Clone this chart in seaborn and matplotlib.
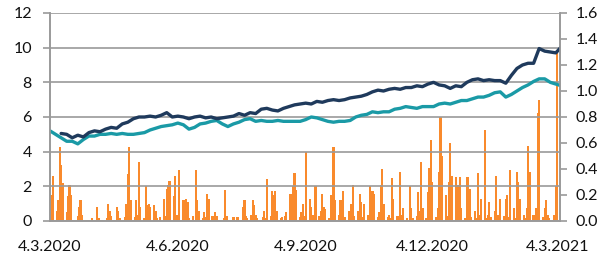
import numpy as np
import pandas as pd
import matplotlib
matplotlib.use("Agg")
import matplotlib.pyplot as plt
import seaborn as sns

# --- data ---
# lines (left axis), one value every 4 days from 4.3.2020
teal_values = [
    5.2, 5.0, 4.8, 4.6, 4.6, 4.45, 4.7, 4.9, 4.9, 5.0,
    5.0, 5.05, 5.0, 5.05, 5.0, 5.0, 5.05, 5.1, 5.25, 5.35,
    5.45, 5.5, 5.55, 5.65, 5.55, 5.3, 5.4, 5.6, 5.65, 5.75,
    5.8, 5.6, 5.45, 5.6, 5.7, 5.85, 5.9, 5.75, 5.8, 5.75,
    5.75, 5.8, 5.75, 5.75, 5.75, 5.75, 5.85, 6.0, 5.95, 5.85,
    5.75, 5.7, 5.75, 5.75, 5.8, 6.0, 6.1, 6.15, 6.3, 6.25,
    6.3, 6.3, 6.45, 6.5, 6.6, 6.55, 6.5, 6.6, 6.6, 6.6,
    6.75, 6.8, 6.75, 6.85, 6.95, 6.95, 7.05, 7.15, 7.15, 7.25,
    7.4, 7.45, 7.15, 7.3, 7.5, 7.7, 7.85, 8.05, 8.2, 8.2,
    8.0, 7.9, 7.8,
]
navy_values = [
    np.nan, np.nan, 5.05, 5.0, 4.8, 4.95, 4.85, 5.1, 5.2, 5.15,
    5.3, 5.4, 5.35, 5.6, 5.7, 5.9, 6.0, 6.0, 6.05, 6.0,
    6.1, 6.25, 6.0, 6.05, 6.0, 5.9, 6.0, 6.05, 5.95, 6.0,
    5.9, 5.95, 6.0, 6.05, 6.2, 6.1, 6.25, 6.2, 6.45, 6.5,
    6.4, 6.35, 6.5, 6.6, 6.7, 6.75, 6.8, 6.75, 6.9, 6.85,
    6.95, 7.0, 6.95, 7.0, 7.1, 7.15, 7.2, 7.3, 7.45, 7.55,
    7.5, 7.6, 7.65, 7.6, 7.7, 7.7, 7.8, 7.75, 7.9, 8.0,
    7.85, 7.8, 7.65, 7.8, 7.75, 8.0, 8.15, 8.2, 8.1, 8.15,
    8.1, 8.1, 7.95, 8.4, 8.8, 9.0, 9.1, 9.1, 9.95, 9.8,
    9.75, 9.7, 10.05,
]

# bars (right axis), one value per business day from 4.3.2020
bar_values = [
    0.02, 0.20, 0.35, 0.08, 0.16, 0.57, 0.43, 0.29, 0.07, 0.19,
    0.28, 0.20, 0.01, 0.00, 0.04, 0.11, 0.16, 0.05, 0.00, 0.01,
    0.00, 0.00, 0.02, 0.00, 0.11, 0.02, 0.00, 0.01, 0.00, 0.02,
    0.13, 0.08, 0.04, 0.01, 0.11, 0.08, 0.02, 0.00, 0.03, 0.13,
    0.36, 0.57, 0.16, 0.03, 0.16, 0.05, 0.45, 0.11, 0.02, 0.27,
    0.12, 0.13, 0.11, 0.12, 0.08, 0.02, 0.01, 0.03, 0.17, 0.04,
    0.25, 0.28, 0.31, 0.19, 0.35, 0.05, 0.02, 0.39, 0.16, 0.03,
    0.17, 0.15, 0.02, 0.04, 0.01, 0.39, 0.16, 0.08, 0.02, 0.07,
    0.03, 0.21, 0.17, 0.04, 0.01, 0.07, 0.04, 0.01, 0.00, 0.02,
    0.24, 0.04, 0.01, 0.00, 0.03, 0.01, 0.00, 0.03, 0.01, 0.11,
    0.16, 0.04, 0.02, 0.05, 0.16, 0.12, 0.05, 0.02, 0.01, 0.03,
    0.08, 0.02, 0.32, 0.04, 0.23, 0.20, 0.23, 0.08, 0.02, 0.03,
    0.01, 0.04, 0.07, 0.21, 0.05, 0.27, 0.37, 0.24, 0.03, 0.07,
    0.13, 0.04, 0.53, 0.17, 0.11, 0.05, 0.02, 0.27, 0.04, 0.08,
    0.21, 0.11, 0.09, 0.02, 0.20, 0.04, 0.57, 0.16, 0.05, 0.16,
    0.04, 0.23, 0.03, 0.08, 0.02, 0.13, 0.28, 0.04, 0.08, 0.21,
    0.15, 0.03, 0.13, 0.05, 0.27, 0.09, 0.23, 0.21, 0.03, 0.07,
    0.28, 0.40, 0.13, 0.03, 0.05, 0.02, 0.33, 0.17, 0.04, 0.02,
    0.38, 0.05, 0.10, 0.02, 0.00, 0.27, 0.10, 0.02, 0.04, 0.22,
    0.08, 0.45, 0.10, 0.02, 0.22, 0.41, 0.62, 0.30, 0.03, 0.10,
    0.38, 0.80, 0.50, 0.20, 0.04, 0.30, 0.60, 0.35, 0.34, 0.05,
    0.28, 0.34, 0.10, 0.02, 0.34, 0.34, 0.25, 0.03, 0.08, 0.02,
    0.37, 0.05, 0.17, 0.70, 0.02, 0.05, 0.15, 0.03, 0.08, 0.35,
    0.05, 0.02, 0.17, 0.04, 0.17, 0.20, 0.03, 0.39, 0.10, 0.02,
    0.38, 0.30, 0.17, 0.05, 0.02, 0.10, 0.58, 0.38, 0.05, 0.02,
    0.10, 0.83, 0.93, 0.03, 0.10, 0.16, 0.05, 0.02, 0.01, 0.05,
    0.27, 1.30,
]

tick_dates = ["2020-03-04", "2020-06-04", "2020-09-04", "2020-12-04", "2021-03-04"]
tick_labels = ["4.3.2020", "4.6.2020", "4.9.2020", "4.12.2020", "4.3.2021"]

NAVY = "#1f3a5c"
TEAL = "#1a9aa6"
ORANGE = "#f98a2c"
GRID = "#9a9a9a"

lines = pd.DataFrame({
    "date": pd.date_range("2020-03-04", periods=len(teal_values), freq="4D"),
    "teal": teal_values,
    "navy": navy_values,
})
bars = pd.DataFrame({
    "date": pd.bdate_range("2020-03-04", periods=len(bar_values)),
    "value": bar_values,
})

sns.set_style("white")
plt.rcParams["font.family"] = ["Lato", "DejaVu Sans"]

fig = plt.figure(figsize=(6.06, 2.59), dpi=100)
ax = fig.add_axes([50 / 606, 1 - 221 / 259, 510 / 606, 208 / 259])
ax2 = ax.twinx()
# bars behind the lines
ax2.set_zorder(ax.get_zorder() - 1)
ax.patch.set_visible(False)

ax2.bar(bars["date"], bars["value"], width=1.6, color=ORANGE, linewidth=0)
sns.lineplot(data=lines, x="date", y="teal", ax=ax, color=TEAL, linewidth=2.4)
sns.lineplot(data=lines, x="date", y="navy", ax=ax, color=NAVY, linewidth=2.4)

xmin, xmax = pd.Timestamp("2020-03-04"), pd.Timestamp("2021-03-06")
ax.set_xlim(xmin, xmax)
ax.set_ylim(0, 12)
ax2.set_ylim(0, 1.6)
ax.set_yticks(np.arange(0, 13, 2))
ax2.set_yticks(np.arange(0, 1.61, 0.2))
ax2.set_yticklabels([f"{v:.1f}" for v in np.arange(0, 1.61, 0.2)])
ax.set_xticks(pd.to_datetime(tick_dates))
ax.set_xticklabels(tick_labels)
ax.set_xlabel("")
ax.set_ylabel("")
ax2.set_ylabel("")

ax.grid(axis="y", color=GRID, linewidth=1.2)
ax.grid(axis="x", visible=False)
ax2.grid(False)

for a in (ax, ax2):
    a.spines["top"].set_visible(False)
    for s in ("left", "right", "bottom"):
        a.spines[s].set_color(GRID)
        a.spines[s].set_linewidth(1.2)
    a.tick_params(axis="both", length=5, width=1.2, color=GRID,
                  labelsize=11.5, labelcolor="#111111")
ax.tick_params(axis="y", pad=8)
ax2.tick_params(axis="y", pad=6)
ax.tick_params(axis="x", pad=9)

fig.savefig("out.png", dpi=100)
